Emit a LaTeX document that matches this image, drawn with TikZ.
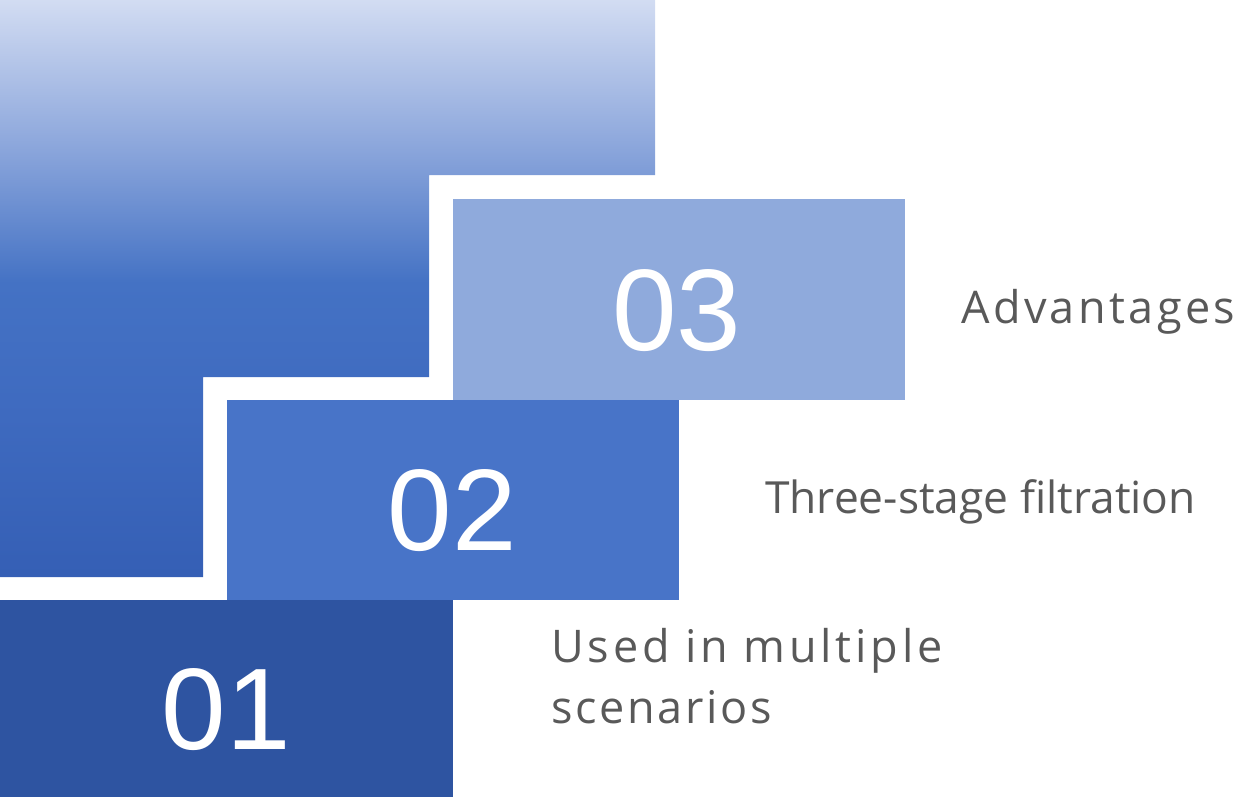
\documentclass[tikz,border=0pt]{standalone}
\usepackage{fontspec}
\setmainfont{Open Sans}
\newfontfamily\digitfont{Liberation Sans}
\newfontfamily\spacedfont[LetterSpace=8.5]{Open Sans}
\newfontfamily\spacedfontb[LetterSpace=7.5]{Open Sans}
\newfontfamily\spacedfontc[LetterSpace=6]{Open Sans}
\definecolor{stairtop}{HTML}{D2DCF2}
\definecolor{stairup}{HTML}{8AA5DB}
\definecolor{stairmid}{HTML}{4472C4}
\definecolor{stairlow}{HTML}{3F6BC0}
\definecolor{stairbot}{HTML}{355FB5}
\definecolor{cthree}{HTML}{8FAADC}
\definecolor{ctwo}{HTML}{4874C8}
\definecolor{cone}{HTML}{2E54A1}
\definecolor{txtgray}{HTML}{595959}
\pgfdeclareverticalshading{stairshade}{100bp}{%
  color(0bp)=(stairbot); color(25bp)=(stairbot); color(40.3bp)=(stairlow);
  color(50.5bp)=(stairmid); color(62bp)=(stairup); color(75bp)=(stairtop); color(100bp)=(stairtop)}
\begin{document}
\begin{tikzpicture}[x=1pt,y=-1pt,
  stepbox/.style={rectangle, draw=none, inner sep=0pt, minimum width=452pt},
  digit/.style={anchor=base, text=white, inner sep=0pt, font=\digitfont\fontsize{116}{120}\selectfont},
  label/.style={anchor=base west, text=txtgray, inner sep=0pt, font=\fontsize{44.3}{54}\selectfont},
  slabel/.style={anchor=base west, text=txtgray, inner sep=0pt, font=\spacedfont\fontsize{45}{54}\selectfont}]
\useasboundingbox (0,0) rectangle (1237,797);
\shade[shading=stairshade]
  (0,0) -- (655,0) -- (655,175) -- (429,175) -- (429,377) -- (203,377) -- (203,577) -- (0,577) -- cycle;
\node[stepbox, fill=cthree, minimum height=201pt] (b3) at (679,299.5) {};
\node[stepbox, fill=ctwo, minimum height=200pt] (b2) at (453,500) {};
\node[stepbox, fill=cone, minimum width=453pt, minimum height=197pt] (b1) at (226.5,698.5) {};
\node[digit] (d3) at (677,350) {03};
\node[digit] (d2) at (452.5,550) {02};
\node[digit] (d1) at (226.5,749) {01};
\node[slabel, font=\spacedfontb\fontsize{45}{54}\selectfont] (t3) at (961,323) {Advantages};
\node[label] (t2) at (765,513) {Three-stage filtration};
\node[slabel] (t1a) at (551,662) {Used in multiple};
\node[slabel, font=\spacedfontc\fontsize{45}{54}\selectfont] (t1b) at (551,723) {scenarios};
\end{tikzpicture}
\end{document}
